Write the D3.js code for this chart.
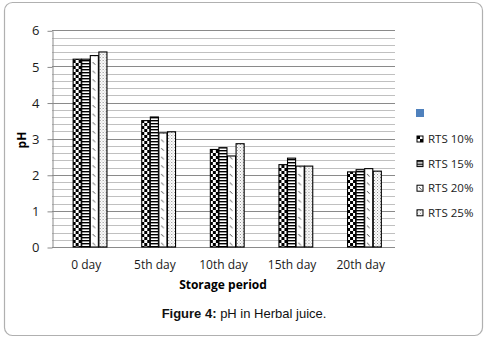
<!DOCTYPE html>
<html lang="en">
<head>
<meta charset="UTF-8">
<title>pH in Herbal juice</title>
<style>
    body { margin: 0; padding: 0; background: #fff; }
    svg { display: block; }
    .tick-label { font-family: "Open Sans", sans-serif; font-size: 12px; fill: #1a1a1a; }
    .axis-title { font-family: "Open Sans", sans-serif; font-size: 12px; font-weight: bold; fill: #000; }
    .legend-text { font-family: "Open Sans", sans-serif; font-size: 11.5px; fill: #1a1a1a; }
    .caption { font-family: "Liberation Sans", Arial, sans-serif; font-size: 13px; fill: #111; }
</style>
</head>
<body>
<div id="chart"></div>
<script src="https://cdn.jsdelivr.net/npm/d3@7"></script>
<script>
// data
const categories = ['0 day', '5th day', '10th day', '15th day', '20th day'];
const seriesNames = ['RTS 10%', 'RTS 15%', 'RTS 20%', 'RTS 25%'];
const rts10 = [5.2, 3.5, 2.7, 2.28, 2.08];
const rts15 = [5.2, 3.6, 2.75, 2.46, 2.14];
const rts20 = [5.3, 3.16, 2.52, 2.24, 2.17];
const rts25 = [5.4, 3.19, 2.86, 2.24, 2.1];
const yTicks = [0, 1, 2, 3, 4, 5, 6];

const seriesValues = [rts10, rts15, rts20, rts25];
const patternIds = ['pChecker', 'pStripe', 'pDash', 'pDots'];

const w = 490, h = 341;
const plotLeft = 52, plotRight = 395, plotTop = 30.3, plotBottom = 247;
const barShift = 3.5; // bars sit a little right of the category labels

const svg = d3.select('#chart').append('svg')
    .attr('width', w)
    .attr('height', h);

// patterns
const defs = svg.append('defs');

const checker = defs.append('pattern').attr('id', 'pChecker')
    .attr('patternUnits', 'userSpaceOnUse').attr('width', 6).attr('height', 6);
checker.append('rect').attr('width', 6).attr('height', 6).attr('fill', '#fff');
checker.append('rect').attr('width', 3).attr('height', 3).attr('fill', '#000');
checker.append('rect').attr('x', 3).attr('y', 3).attr('width', 3).attr('height', 3).attr('fill', '#000');

const stripe = defs.append('pattern').attr('id', 'pStripe')
    .attr('patternUnits', 'userSpaceOnUse').attr('width', 4).attr('height', 3);
stripe.append('rect').attr('width', 4).attr('height', 3).attr('fill', '#fff');
stripe.append('rect').attr('width', 4).attr('height', 1.4).attr('fill', '#000');

const dash = defs.append('pattern').attr('id', 'pDash')
    .attr('patternUnits', 'userSpaceOnUse').attr('width', 9).attr('height', 8.6);
dash.append('rect').attr('width', 9).attr('height', 8.6).attr('fill', '#fff');
dash.append('line').attr('x1', 2).attr('y1', 2).attr('x2', 4.5).attr('y2', 4.5)
    .attr('stroke', '#333').attr('stroke-width', 0.9);

const dots = defs.append('pattern').attr('id', 'pDots')
    .attr('patternUnits', 'userSpaceOnUse').attr('width', 3).attr('height', 3);
dots.append('rect').attr('width', 3).attr('height', 3).attr('fill', '#fff');
dots.append('rect').attr('x', 0).attr('y', 0).attr('width', 1).attr('height', 1).attr('fill', '#888');
dots.append('rect').attr('x', 1.5).attr('y', 1.5).attr('width', 1).attr('height', 1).attr('fill', '#aaa');

// outer frame
svg.append('rect')
    .attr('x', 4.5).attr('y', 2.5)
    .attr('width', 478).attr('height', 333)
    .attr('rx', 8)
    .attr('fill', 'none')
    .attr('stroke', '#b0b0b0')
    .attr('stroke-width', 1.2);

// scales
const x = d3.scaleBand()
    .domain(categories)
    .range([plotLeft, plotRight])
    .paddingInner(0.5)
    .paddingOuter(0.25);

const xSub = d3.scaleBand()
    .domain(seriesNames)
    .range([0, x.bandwidth()]);

const y = d3.scaleLinear()
    .domain([0, 6])
    .range([plotBottom, plotTop]);

// gridlines (minor every 0.2, major every 1)
const minor = d3.range(0, 30).map(i => i * 0.2).filter(v => Math.abs(v - Math.round(v)) > 0.01);
svg.append('g').selectAll('line')
    .data(minor)
    .enter().append('line')
    .attr('x1', plotLeft).attr('x2', plotRight)
    .attr('y1', d => Math.round(y(d)) + 0.5)
    .attr('y2', d => Math.round(y(d)) + 0.5)
    .attr('stroke', '#c0c0c0');

svg.append('g').selectAll('line')
    .data(yTicks.filter(d => d > 0))
    .enter().append('line')
    .attr('x1', plotLeft).attr('x2', plotRight)
    .attr('y1', d => Math.round(y(d)) + 0.5)
    .attr('y2', d => Math.round(y(d)) + 0.5)
    .attr('stroke', '#8a8a8a');

// y axis
const yAxis = d3.axisLeft(y).tickValues(yTicks).tickSize(5).tickSizeOuter(0).tickFormat(d3.format('d'));
const yG = svg.append('g')
    .attr('transform', 'translate(' + (plotLeft + 0.5) + ',0.5)')
    .call(yAxis);
yG.select('.domain').attr('stroke', '#8a8a8a');
yG.selectAll('.tick line').attr('stroke', '#8a8a8a');
yG.selectAll('.tick text')
    .attr('class', 'tick-label')
    .attr('x', -13)
    .style('font-size', '13px');

// x axis line
svg.append('line')
    .attr('x1', plotLeft).attr('x2', plotRight)
    .attr('y1', Math.round(y(0)) + 0.5).attr('y2', Math.round(y(0)) + 0.5)
    .attr('stroke', '#8a8a8a');

// bars
const groups = svg.append('g').selectAll('g')
    .data(categories)
    .enter().append('g')
    .attr('transform', d => 'translate(' + (x(d) + barShift) + ',0)');

groups.selectAll('rect')
    .data((d, i) => seriesNames.map((s, j) => ({ s: s, j: j, v: seriesValues[j][i] })))
    .enter().append('rect')
    .attr('x', d => xSub(d.s) + 0.5)
    .attr('y', d => y(d.v))
    .attr('width', xSub.bandwidth() - 0.5)
    .attr('height', d => y(0) - y(d.v))
    .attr('fill', d => 'url(#' + patternIds[d.j] + ')')
    .attr('stroke', '#000')
    .attr('stroke-width', 1.1);

// x labels
svg.append('g').selectAll('text')
    .data(categories)
    .enter().append('text')
    .attr('class', 'tick-label')
    .attr('x', d => x(d) + x.bandwidth() / 2)
    .attr('y', 269)
    .attr('text-anchor', 'middle')
    .text(d => d);

// axis titles
svg.append('text')
    .attr('class', 'axis-title')
    .attr('x', 223)
    .attr('y', 289)
    .attr('text-anchor', 'middle')
    .text('Storage period');

svg.append('text')
    .attr('class', 'axis-title')
    .attr('transform', 'translate(26,140) rotate(-90)')
    .attr('text-anchor', 'middle')
    .text('pH');

// legend
svg.append('rect')
    .attr('x', 416).attr('y', 109)
    .attr('width', 8).attr('height', 8)
    .attr('fill', '#4f81bd');

const legend = svg.append('g').selectAll('g')
    .data(seriesNames)
    .enter().append('g')
    .attr('transform', (d, i) => 'translate(417,' + (136 + i * 24.6) + ')');

legend.append('rect')
    .attr('width', 6).attr('height', 6)
    .attr('fill', (d, i) => 'url(#' + patternIds[i] + ')')
    .attr('stroke', '#000')
    .attr('stroke-width', 1);

legend.append('text')
    .attr('class', 'legend-text')
    .attr('x', 11)
    .attr('y', 7)
    .text(d => d);

// caption
const cap = svg.append('text')
    .attr('class', 'caption')
    .attr('x', 244)
    .attr('y', 318)
    .attr('text-anchor', 'middle');
cap.append('tspan').attr('font-weight', 'bold').text('Figure 4:');
cap.append('tspan').text(' pH in Herbal juice.');
</script>
</body>
</html>
